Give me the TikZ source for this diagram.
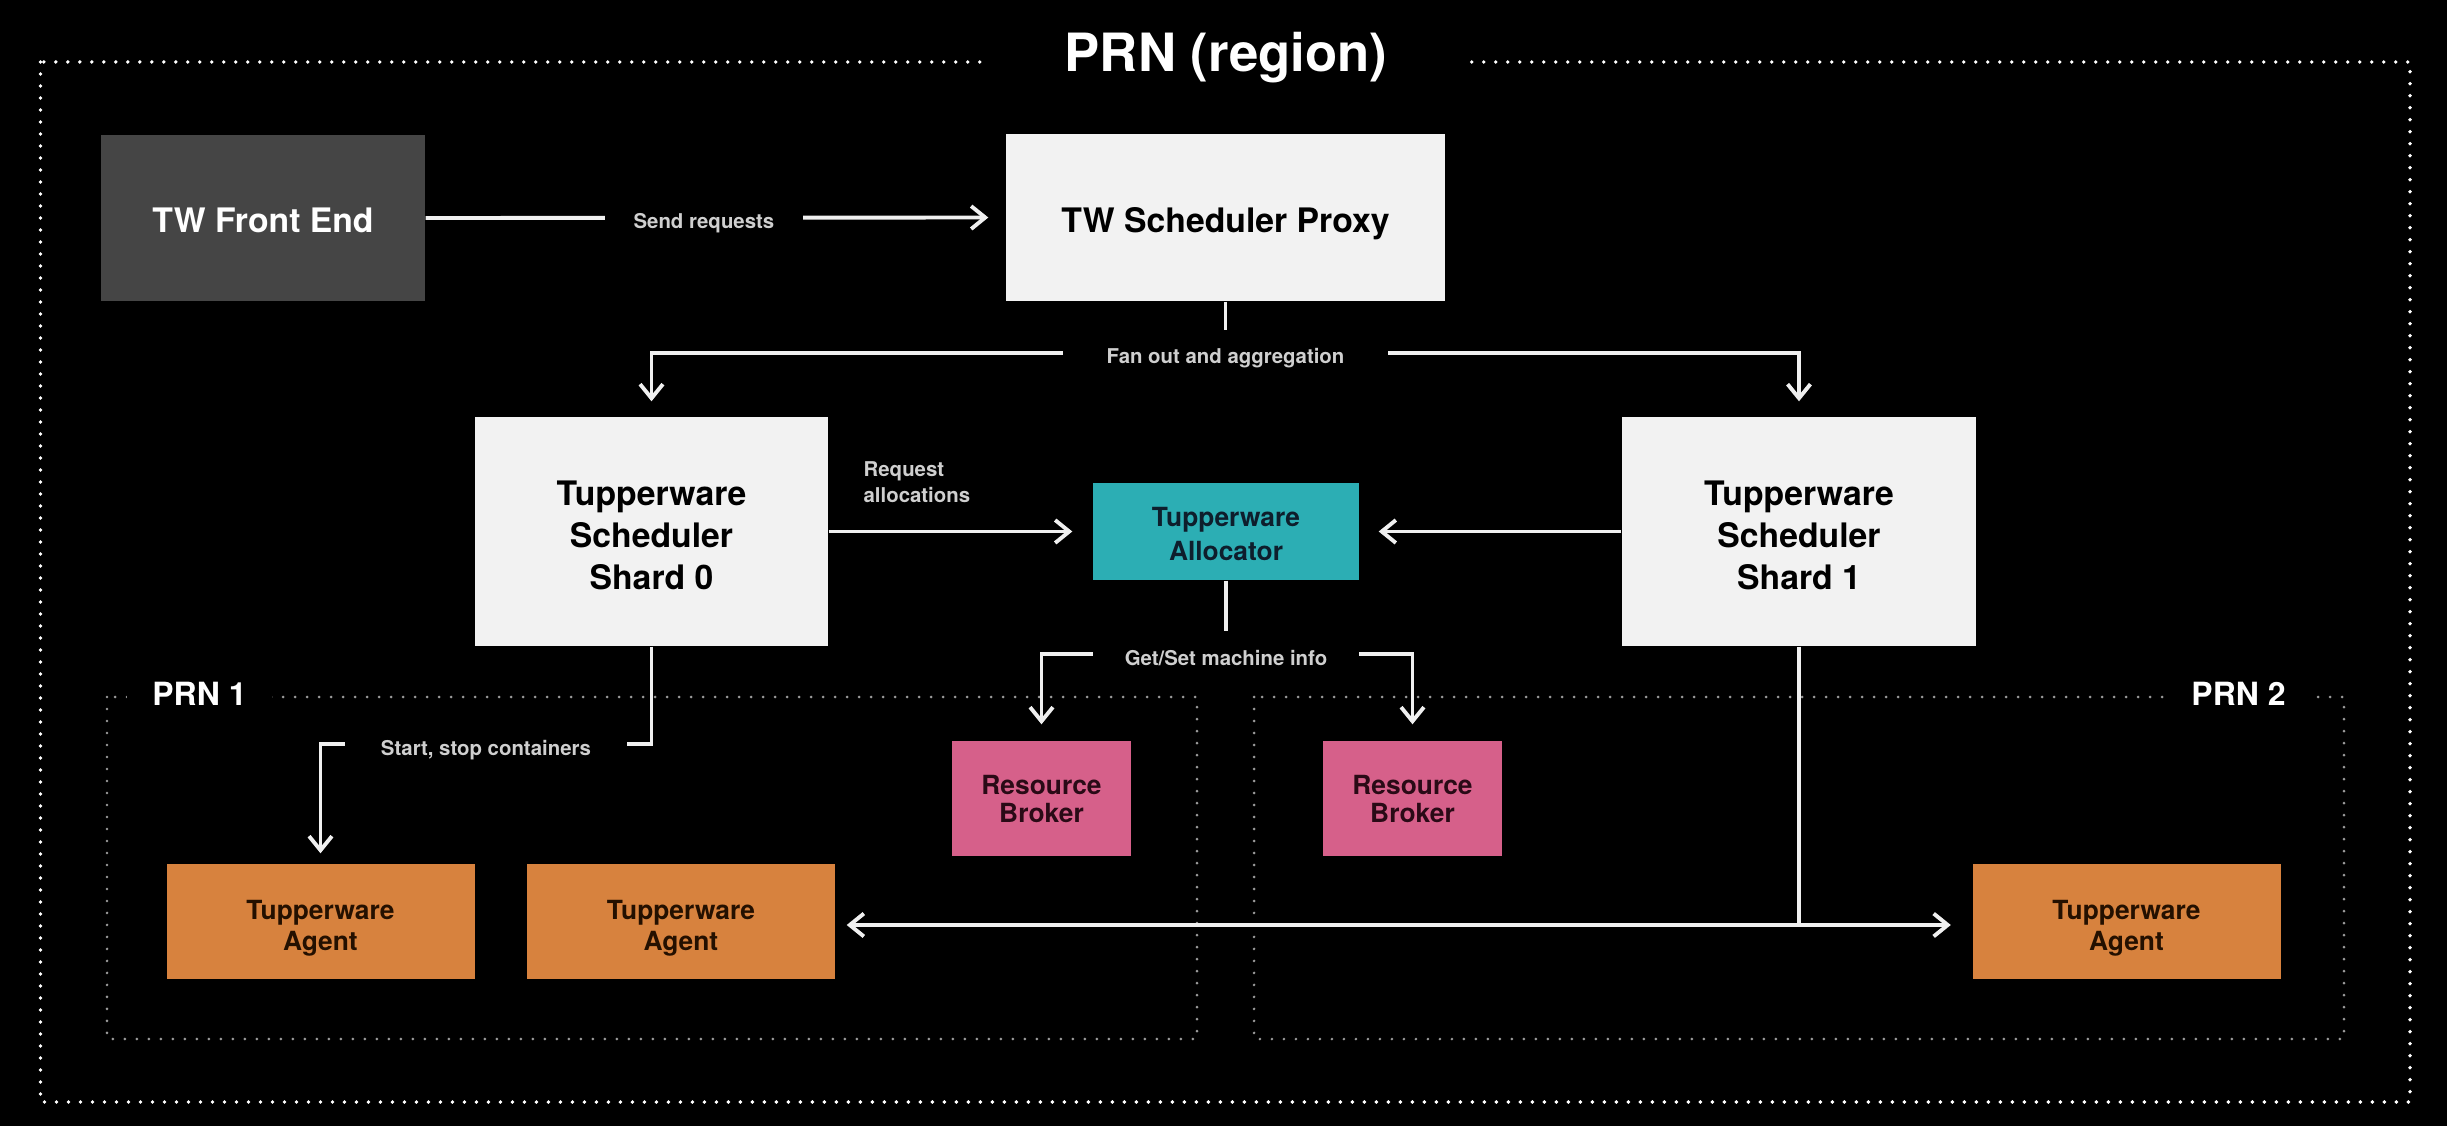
\documentclass[tikz,border=0pt]{standalone}
\usepackage{fontspec}
\setmainfont{TeX Gyre Heros}
\usepackage{xcolor}
\usetikzlibrary{arrows.meta}
\definecolor{boxwhite}{HTML}{F2F2F2}
\definecolor{fegray}{HTML}{454545}
\definecolor{allocteal}{RGB}{44,174,180}
\definecolor{allocink}{HTML}{0E1E2C}
\definecolor{brokerpink}{RGB}{214,96,138}
\definecolor{brokerink}{HTML}{2A0A16}
\definecolor{agentorange}{RGB}{215,130,62}
\definecolor{agentink}{HTML}{241000}
\definecolor{labelgray}{HTML}{CFCFCF}
\definecolor{dotgray}{HTML}{9A9A9A}
\definecolor{wirewhite}{HTML}{F0F0F0}
\tikzset{
    bigbox/.style={fill=boxwhite, text=black, inner sep=0pt, align=center,
        text height=0.3cm, text depth=0cm, font=\fontsize{9.6}{12}\selectfont\bfseries},
    shardbox/.style={bigbox, minimum width=3.53cm, minimum height=2.29cm, text height=1.16cm},
    smallbox/.style={inner sep=0pt, align=center, text depth=0cm},
    agentbox/.style={smallbox, fill=agentorange, text=agentink, text height=0.57cm,
        font=\fontsize{7.5}{8.6}\selectfont\bfseries, minimum width=3.08cm, minimum height=1.15cm},
    brokerbox/.style={smallbox, fill=brokerpink, text=brokerink, text height=0.47cm,
        font=\fontsize{7.5}{7.8}\selectfont\bfseries, minimum width=1.79cm, minimum height=1.15cm},
    lbl/.style={fill=black, text=labelgray, inner xsep=0.33cm, inner ysep=0.12cm,
        text height=0.22cm, text depth=0cm, font=\fontsize{5.8}{7.4}\selectfont\bfseries},
    reqlbl/.style={text=labelgray, inner xsep=0.33cm, inner ysep=0.14cm, align=left,
        font=\fontsize{5.8}{7.4}\selectfont\bfseries},
    regionlbl/.style={fill=black, text=white, inner xsep=0.25cm, anchor=base,
        font=\fontsize{9.1}{11}\selectfont\bfseries},
    outerdots/.style={draw=white, line width=1.1pt, line cap=round, dash pattern=on 0pt off 0.12cm},
    innerdots/.style={draw=dotgray, line width=0.85pt, line cap=round, dash pattern=on 0pt off 0.12cm},
    wire/.style={draw=wirewhite, line width=1.1pt},
    arr/.style={wire, -{Straight Barb[length=4pt,width=6.5pt]}, shorten >=0.16cm}
}

\begin{document}
\begin{tikzpicture}
		\fill[black] (0,0) rectangle (24.47,-11.26);
		\useasboundingbox (0,0) rectangle (24.47,-11.26);

		% region and the two PRNs
		\draw[outerdots] (0.405,-0.62) rectangle (24.10,-11.02);
		\node[fill=black, text=white, anchor=base, inner xsep=0.81cm, font=\fontsize{15}{18}\selectfont\bfseries] (region) at (12.26,-0.72) {PRN (region)};
		\draw[innerdots] (1.07,-6.97) rectangle (11.97,-10.39);
		\draw[innerdots] (12.54,-6.97) rectangle (23.44,-10.39);
		\node[regionlbl] (prn1) at (1.995,-7.05) {PRN 1};
		\node[regionlbl] (prn2) at (22.385,-7.05) {PRN 2};

		% front end and proxy
		\node[bigbox, fill=fegray, text=white, minimum width=3.24cm, minimum height=1.66cm] (fe) at (2.63,-2.18) {TW Front End};
		\node[bigbox, minimum width=4.39cm, minimum height=1.67cm] (proxy) at (12.255,-2.175) {TW Scheduler Proxy};

		% schedulers and allocator
		\node[shardbox] (shard0) at (6.515,-5.315) {Tupperware\\Scheduler\\Shard 0};
		\node[shardbox, minimum width=3.54cm] (shard1) at (17.99,-5.315) {Tupperware\\Scheduler\\Shard 1};
		\node[smallbox, fill=allocteal, text=allocink, text height=0.57cm, font=\fontsize{7.5}{9.4}\selectfont\bfseries, minimum width=2.66cm, minimum height=0.97cm] (alloc) at (12.26,-5.315) {Tupperware\\Allocator};

		% brokers and agents
		\node[brokerbox] (rb1) at (10.415,-7.985) {Resource\\Broker};
		\node[brokerbox] (rb2) at (14.125,-7.985) {Resource\\Broker};
		\node[agentbox] (agent1) at (3.205,-9.215) {Tupperware\\Agent};
		\node[agentbox] (agent2) at (6.81,-9.215) {Tupperware\\Agent};
		\node[agentbox] (agent3) at (21.265,-9.215) {Tupperware\\Agent};

		% requests
		\draw[arr, shorten >=0.17cm] (fe.east) -- node[lbl, pos=0.48, inner xsep=0.29cm] (sendlbl) {Send requests} (proxy.west);

		% fan out
		\coordinate (fan) at (12.255,-3.53);
		\draw[wire] (proxy.south) -- (fan);
		\draw[arr, shorten >=0.15cm] (fan) -| (shard0.north);
		\draw[arr, shorten >=0.15cm] (fan) -| (shard1.north);
		\node[lbl, inner xsep=0.44cm] (fanlbl) at (fan) {Fan out and aggregation};

		% allocations
		\draw[arr, shorten >=0.2cm] (shard0.east) -- node[reqlbl, pos=0, anchor=south west, yshift=0.13cm] (reqtxt) {Request\\allocations} (alloc.west);
		\draw[arr, shorten >=0.19cm] (shard1.west) -- (alloc.east);

		% machine info
		\coordinate (gs) at (12.26,-6.54);
		\draw[wire] (alloc.south) -- (gs);
		\draw[arr] (gs) -| (rb1.north);
		\draw[arr] (gs) -| (rb2.north);
		\node[lbl, inner xsep=0.32cm] (gslbl) at (gs) {Get/Set machine info};

		% containers
		\coordinate (ss) at (6.515,-7.44);
		\draw[arr, shorten >=0.1cm] (shard0.south) -- (ss) -- node[lbl, inner xsep=0.36cm] (sslbl) {Start, stop containers} (ss -| agent1.north) -- (agent1.north);
		\coordinate (sa) at (17.99,-9.25);
		\draw[wire] (shard1.south) -- (sa);
		\draw[arr, shorten >=0.11cm] (sa) -- (sa -| agent2.east);
		\draw[arr, shorten >=0.21cm] (sa) -- (sa -| agent3.west);
	\end{tikzpicture}
\end{document}
